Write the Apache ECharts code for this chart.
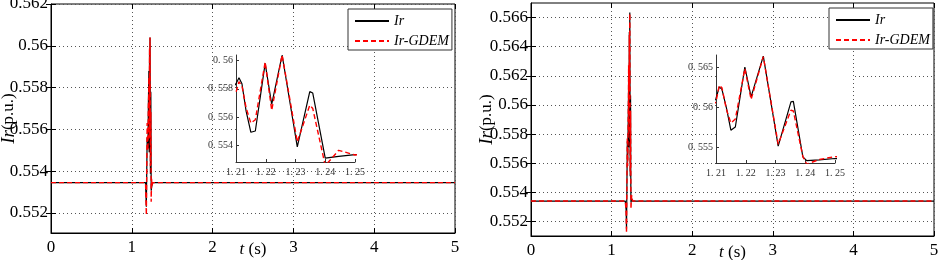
<!DOCTYPE html>
<html>
<head>
<meta charset="utf-8">
<script src="https://cdn.jsdelivr.net/npm/echarts@6/dist/echarts.min.js"></script>
<style>
  html, body { margin: 0; padding: 0; background: #fff; }
  #chart { width: 941px; height: 260px; }
</style>
</head>
<body>
<div id="chart"></div>
<script>
// left panel: time (s), Ir and Ir-GDEM (p.u.)
const timeA = [0, 1.17, 1.18, 1.19, 1.2, 1.205, 1.21, 1.211, 1.212, 1.2134, 1.215, 1.2165, 1.2198, 1.222, 1.2255, 1.2306, 1.2348, 1.2358, 1.24, 1.2445, 1.25, 1.26, 5]
const irA = [0.55345, 0.55345, 0.5523, 0.5556, 0.5551, 0.5572, 0.55836, 0.55879, 0.55836, 0.55641, 0.55491, 0.5550, 0.5598, 0.5569, 0.5604, 0.55387, 0.5578, 0.5577, 0.55307, 0.5532, 0.55333, 0.55345, 0.55345]
const irGdemA = [0.55345, 0.55345, 0.5519, 0.5563, 0.5550, 0.5570, 0.55775, 0.5585, 0.5582, 0.55665, 0.55556, 0.5558, 0.5599, 0.55647, 0.5604, 0.55423, 0.55683, 0.5566, 0.55254, 0.55363, 0.5533, 0.55345, 0.55345]

// right panel
const timeB = [0, 1.17, 1.18, 1.185, 1.19, 1.195, 1.2, 1.205, 1.21, 1.2111, 1.212, 1.2135, 1.215, 1.2165, 1.2197, 1.2218, 1.2259, 1.2309, 1.2352, 1.236, 1.2392, 1.2405, 1.2447, 1.25, 1.26, 5]
const irB = [0.5534, 0.5534, 0.5528, 0.5515, 0.5545, 0.5575, 0.5562, 0.5585, 0.56106, 0.56251, 0.5622, 0.5599, 0.5571, 0.5575, 0.565, 0.56126, 0.56635, 0.5551, 0.56064, 0.5607, 0.55376, 0.5533, 0.5534, 0.55356, 0.5534, 0.5534]
const irGdemB = [0.5534, 0.5534, 0.5526, 0.5512, 0.5548, 0.5578, 0.5558, 0.5585, 0.56064, 0.56273, 0.5624, 0.5597, 0.5580, 0.5585, 0.5648, 0.56094, 0.5663, 0.55535, 0.5596, 0.5595, 0.5538, 0.55285, 0.55344, 0.5538, 0.5534, 0.5534]

// tick labels
const xTicks = [0, 1, 2, 3, 4, 5]
const yTicksA = [0.552, 0.554, 0.556, 0.558, 0.56, 0.562]
const yTicksB = [0.552, 0.554, 0.556, 0.558, 0.56, 0.562, 0.564, 0.566]
const zoomTicksX = [1.21, 1.22, 1.23, 1.24, 1.25]
const zoomTicksA = [0.554, 0.556, 0.558, 0.56]
const zoomTicksB = [0.555, 0.56, 0.565]

const serif = '"Liberation Serif", "DejaVu Serif", serif'
const gridLine = { lineStyle: { color: '#555', width: 1, type: [1, 3] } }

function pairs(t, v) {
  return t.map((x, i) => [x, v[i]])
}

function mainX(g) {
  return {
    type: 'value', gridIndex: g, min: 0, max: 5, interval: 1,
    name: '{i|t} (s)', nameLocation: 'middle', nameGap: 8, nameMoveOverlap: false,
    nameTextStyle: {
      color: '#000', fontFamily: serif, fontSize: 17,
      rich: { i: { fontFamily: serif, fontSize: 17, fontStyle: 'italic', color: '#000' } }
    },
    axisLine: { lineStyle: { color: '#000' } },
    axisTick: { inside: true, length: 5, lineStyle: { color: '#000' } },
    axisLabel: { color: '#000', fontFamily: serif, fontSize: 17, margin: 6 },
    splitLine: gridLine
  }
}

function topX(g) {
  return {
    type: 'value', gridIndex: g, position: 'top', min: 0, max: 5, interval: 1,
    axisLine: { show: false },
    axisTick: { inside: true, length: 5, lineStyle: { color: '#000' } },
    axisLabel: { show: false },
    splitLine: { show: false }
  }
}

function mainY(g, min, max, ticks, gap) {
  return {
    type: 'value', gridIndex: g, min: min, max: max,
    name: '{i|Ir}(p.u.)', nameLocation: 'middle', nameGap: gap, nameMoveOverlap: false,
    nameTextStyle: {
      color: '#000', fontFamily: serif, fontSize: 17,
      rich: { i: { fontFamily: serif, fontSize: 19, fontStyle: 'italic', color: '#000' } }
    },
    axisLine: { show: true, lineStyle: { color: '#000' } },
    axisTick: { inside: true, length: 5, customValues: ticks, lineStyle: { color: '#000' } },
    axisLabel: {
      color: '#000', fontFamily: serif, fontSize: 17, margin: 3,
      customValues: ticks, showMinLabel: true, showMaxLabel: true,
      formatter: v => String(+v.toFixed(3))
    },
    splitLine: gridLine
  }
}

function rightY(g, min, max, ticks) {
  return {
    type: 'value', gridIndex: g, position: 'right', min: min, max: max,
    axisLine: { show: false },
    axisTick: { inside: true, length: 5, customValues: ticks, lineStyle: { color: '#000' } },
    axisLabel: { show: false, customValues: ticks },
    splitLine: { show: false }
  }
}

function zoomX(g) {
  return {
    type: 'value', gridIndex: g, min: 1.21, max: 1.25, z: 5,
    axisLine: { lineStyle: { color: '#333' } },
    axisTick: { inside: true, length: 3, customValues: zoomTicksX, lineStyle: { color: '#333' } },
    axisLabel: {
      color: '#333', fontFamily: serif, fontSize: 10, margin: 5,
      customValues: zoomTicksX, hideOverlap: false, showMinLabel: true, showMaxLabel: true,
      formatter: v => String(+v.toFixed(2)).replace('.', '. ')
    },
    splitLine: { show: false }
  }
}

function zoomY(g, min, max, ticks) {
  return {
    type: 'value', gridIndex: g, min: min, max: max, z: 5,
    axisLine: { show: true, lineStyle: { color: '#333' } },
    axisTick: { inside: true, length: 3, customValues: ticks, lineStyle: { color: '#333' } },
    axisLabel: {
      color: '#333', fontFamily: serif, fontSize: 10, margin: 3,
      customValues: ticks, hideOverlap: false, showMinLabel: true, showMaxLabel: true,
      formatter: v => String(+v.toFixed(3)).replace('.', '. ')
    },
    splitLine: { show: false }
  }
}

function lines(xi, yi, t, ir, gdem, z) {
  return [{
    name: 'Ir', type: 'line', xAxisIndex: xi, yAxisIndex: yi,
    data: pairs(t, ir), symbol: 'none', showSymbol: false, z: z,
    itemStyle: { color: '#000' },
    lineStyle: { color: '#000', width: 1.2 }
  }, {
    name: 'Ir-GDEM', type: 'line', xAxisIndex: xi, yAxisIndex: yi,
    data: pairs(t, gdem), symbol: 'none', showSymbol: false, z: z + 1,
    itemStyle: { color: '#ff0000' },
    lineStyle: { color: '#ff0000', width: 1.4, type: [5, 3] }
  }]
}

function legend(left, top) {
  return {
    orient: 'vertical', left: left, top: top,
    padding: [5, 3, 2, 6], itemWidth: 34, itemHeight: 14, itemGap: 6,
    backgroundColor: '#fff', borderColor: '#333', borderWidth: 1,
    itemStyle: { opacity: 0 },
    textStyle: { color: '#000', fontFamily: serif, fontStyle: 'italic', fontSize: 14 },
    data: ['Ir', 'Ir-GDEM']
  }
}

const chart = echarts.init(document.getElementById('chart'))

const gridBase = { outerBoundsMode: 'none', containLabel: false }

chart.setOption({
  animation: false,
  backgroundColor: '#fff',
  grid: [
    { ...gridBase, left: 51, top: 4, width: 404, height: 229, show: true, borderColor: '#000', borderWidth: 1 },
    { ...gridBase, left: 236, top: 55, width: 119, height: 107 },
    { ...gridBase, left: 531, top: 3, width: 403, height: 233, show: true, borderColor: '#000', borderWidth: 1 },
    { ...gridBase, left: 716, top: 55, width: 119, height: 108 }
  ],
  xAxis: [mainX(0), topX(0), zoomX(1), mainX(2), topX(2), zoomX(3)],
  yAxis: [
    mainY(0, 0.55104, 0.562, yTicksA, 33),
    rightY(0, 0.55104, 0.562, yTicksA),
    zoomY(1, 0.5528, 0.5604, zoomTicksA),
    mainY(2, 0.551, 0.567, yTicksB, 35),
    rightY(2, 0.551, 0.567, yTicksB),
    zoomY(3, 0.553, 0.5665, zoomTicksB)
  ],
  legend: [legend(348, 9), legend(829, 8)],
  graphic: [
    { type: 'rect', shape: { x: 236, y: 50, width: 137, height: 116 }, style: { fill: '#fff' }, z: 1 },
    { type: 'rect', shape: { x: 716, y: 50, width: 136, height: 116 }, style: { fill: '#fff' }, z: 1 }
  ],
  series: [
    ...lines(0, 0, timeA, irA, irGdemA, 2),
    ...lines(2, 2, timeA, irA, irGdemA, 6),
    ...lines(3, 3, timeB, irB, irGdemB, 2),
    ...lines(5, 5, timeB, irB, irGdemB, 6)
  ]
})
</script>
</body>
</html>
